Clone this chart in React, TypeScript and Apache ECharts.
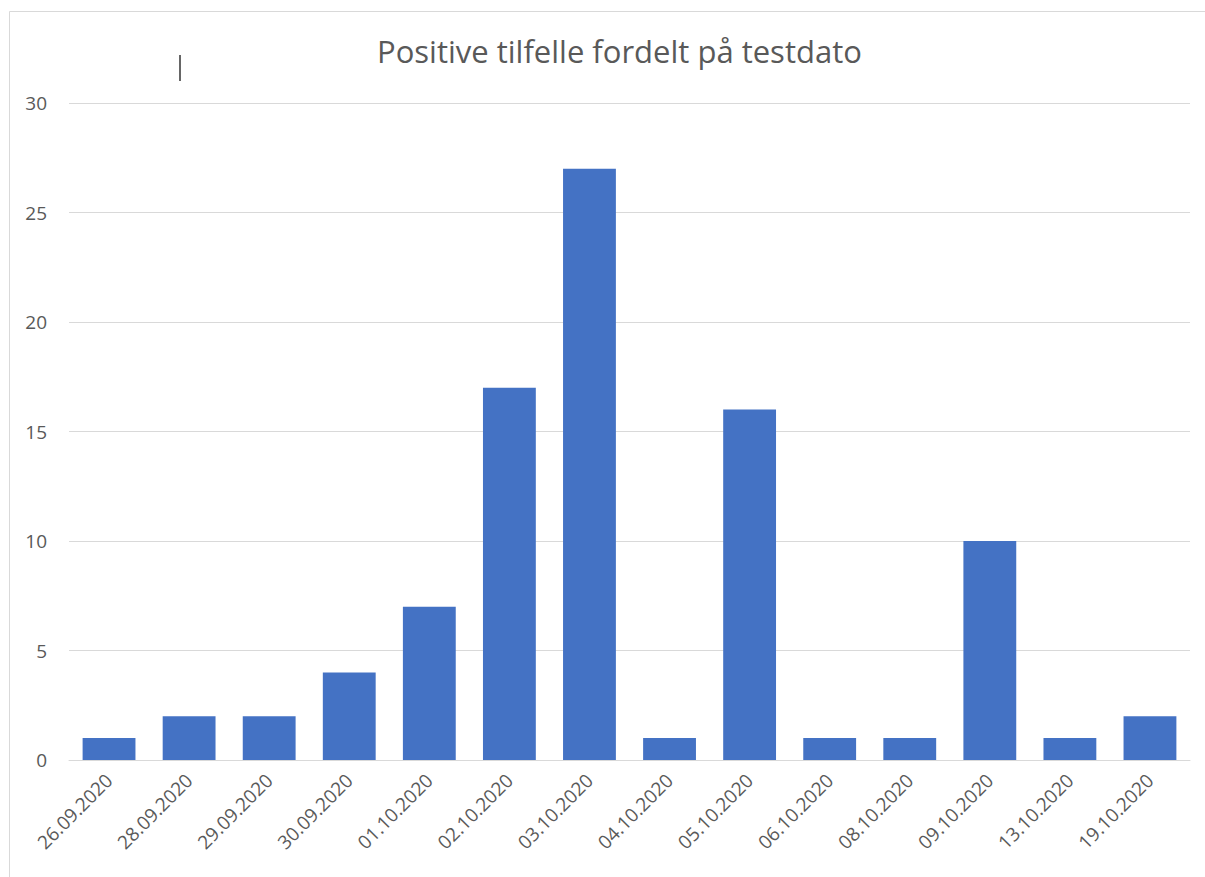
import React, { useEffect, useRef } from "react";
import * as echarts from "echarts";

const categories = [
  "26.09.2020", "28.09.2020", "29.09.2020", "30.09.2020", "01.10.2020", "02.10.2020", "03.10.2020",
  "04.10.2020", "05.10.2020", "06.10.2020", "08.10.2020", "09.10.2020", "13.10.2020", "19.10.2020",
];
const values = [1, 2, 2, 4, 7, 17, 27, 1, 16, 1, 1, 10, 1, 2];
const titleText = "Positive tilfelle fordelt på testdato";

export default function App() {
  const ref = useRef<HTMLDivElement>(null);
  useEffect(() => {
    const chart = echarts.init(ref.current!, null, { renderer: "svg" });
    chart.setOption({
      animation: false,
      backgroundColor: "#ffffff",
      title: {
        text: titleText,
        left: 372,
        top: 30,
        textStyle: { fontFamily: "Open Sans", fontSize: 31, fontWeight: "normal", color: "#595959" },
      },
      graphic: [
        { type: "rect", shape: { x: 9.5, y: 11.5, width: 1300, height: 1000 }, style: { fill: "none", stroke: "#d9d9d9", lineWidth: 1 } },
        { type: "line", shape: { x1: 180, y1: 55, x2: 180, y2: 81 }, style: { stroke: "#333", lineWidth: 1.5 } },
      ],
      grid: { left: 69, right: 15, top: 103, bottom: 117, containLabel: false },
      xAxis: {
        type: "category",
        data: categories,
        axisLine: { lineStyle: { color: "#d9d9d9" } },
        axisTick: { show: false },
        axisLabel: {
          rotate: 45,
          interval: 0,
          color: "#595959",
          fontFamily: "Open Sans",
          fontSize: 19,
          margin: 17,
        },
      },
      yAxis: {
        type: "value",
        min: 0,
        max: 30,
        interval: 5,
        axisLine: { show: false },
        axisTick: { show: false },
        splitLine: { lineStyle: { color: "#d9d9d9" } },
        axisLabel: { color: "#595959", fontFamily: "Open Sans", fontSize: 19, margin: 22 },
      },
      series: [
        {
          type: "bar",
          data: values,
          barCategoryGap: "34%",
          itemStyle: { color: "#4472c4" },
        },
      ],
    });
    return () => chart.dispose();
  }, []);
  return <div ref={ref} style={{ position: "fixed", left: 0, top: 0, width: 1205, height: 877 }} />;
}
